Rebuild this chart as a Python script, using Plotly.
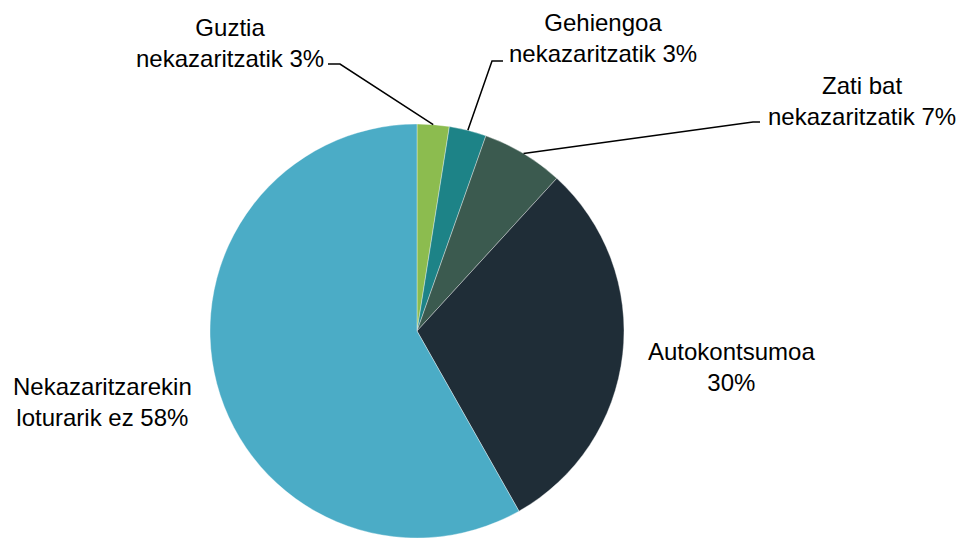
import math
import plotly.graph_objects as go

# Data
categories = ["Guztia nekazaritzatik", "Gehiengoa nekazaritzatik", "Zati bat nekazaritzatik",
              "Autokontsumoa", "Nekazaritzarekin loturarik ez"]
values = [2.5, 2.9, 6.4, 30.0, 58.2]
pct_labels = ["3%", "3%", "7%", "30%", "58%"]
label_lines = [["Guztia", "nekazaritzatik 3%"],
               ["Gehiengoa", "nekazaritzatik 3%"],
               ["Zati bat", "nekazaritzatik 7%"],
               ["Autokontsumoa", "30%"],
               ["Nekazaritzarekin", "loturarik ez 58%"]]
colors = ["#8CBC4F", "#1D8387", "#3B5A4F", "#1F2D37", "#4BACC6"]

OFF = 8                      # page body margin
W, H = 965 - OFF, 538 - OFF  # figure size
CX, CY, R = 417 - OFF, 331 - OFF, 207  # pie center / radius in figure px

fig = go.Figure(go.Pie(
    labels=categories, values=values, sort=False, direction="clockwise", rotation=0,
    marker=dict(colors=colors, line=dict(color="rgba(255,255,255,0.6)", width=0.6)),
    textinfo="none", hoverinfo="label+percent", showlegend=False,
    domain=dict(x=[(CX - R) / W, (CX + R) / W], y=[0, 2 * (H - CY) / H]),
))

font = dict(family="Liberation Sans, Arial, sans-serif", size=24, color="#000000")

# label positions (page px, center of text block)
label_pos = [(230, 43), (603, 38), (862, 101), (731, 367), (102, 402)]
# elbow / line ends for leader lines (page px)
leaders = {0: ((340, 64), (328, 64)), 1: ((492, 61), (503, 61)), 2: ((753, 122), (760, 122))}

total = sum(values)
cum = 0
shapes = []
for i, v in enumerate(values):
    mid = (cum + v / 2) / total * 2 * math.pi
    cum += v
    if i in leaders:
        ax = CX + R * math.sin(mid)
        ay = CY - R * math.cos(mid)
        (ex, ey), (hx, hy) = leaders[i]
        pts = [(ax, ay), (ex - OFF, ey - OFF), (hx - OFF, hy - OFF)]
        path = "M " + " L ".join(f"{x / W:.5f},{1 - y / H:.5f}" for x, y in pts)
        shapes.append(dict(type="path", path=path, xref="paper", yref="paper",
                           line=dict(color="#000000", width=1.5)))

annotations = []
for (x, y), lines in zip(label_pos, label_lines):
    annotations.append(dict(text="<br>".join(lines), x=(x - OFF) / W, y=1 - (y - OFF) / H,
                            xref="paper", yref="paper", xanchor="center", yanchor="middle",
                            showarrow=False, align="center", font=font))

fig.update_layout(width=W, height=H, margin=dict(l=0, r=0, t=0, b=0),
                  paper_bgcolor="white", plot_bgcolor="white",
                  shapes=shapes, annotations=annotations)

fig.write_html("out.html")
